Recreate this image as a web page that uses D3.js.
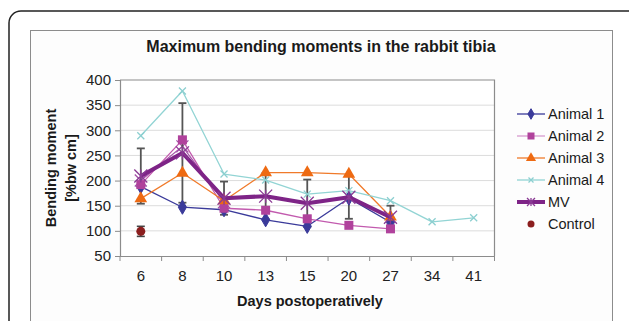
<!DOCTYPE html>
<html>
<head>
<meta charset="utf-8">
<script src="https://cdn.jsdelivr.net/npm/d3@7"></script>
<style>
  body { margin: 0; background: #fff; }
  text { font-family: "Liberation Sans", Arial, sans-serif; }
</style>
</head>
<body>
<script>
// data
var days = ["6", "8", "10", "13", "15", "20", "27", "34", "41"];
var animal1 = [188, 147, 142, 122, 109, 165, 117];
var animal2 = [192, 281, 145, 141, 124, 111, 104];
var animal3 = [164, 215, 160, 216, 216, 213, 128];
var animal4 = [289, 378, 213, 201, 173, 180, 160, 118, 126];
var mv      = [209, 255, 165, 169, 155, 167, 127];
var mvErr   = [55, 99, 33, 46, 47, 43, 23];
var extra   = [200, 268, 157];   // thin purple trace behind MV (no legend entry)
var control = [99];
var controlErr = [10];
var yTicks = [50, 100, 150, 200, 250, 300, 350, 400];

var W = 629, H = 321;
var pL = 120, pR = 494.5, pT = 80, pB = 256;

var svg = d3.select("body").append("svg")
    .attr("width", W).attr("height", H);

// frames
svg.append("rect").attr("x", 9).attr("y", 11).attr("width", 650).attr("height", 360)
    .attr("rx", 12).attr("fill", "#fff").attr("stroke", "#222").attr("stroke-width", 1.5);
svg.append("rect").attr("x", 30.5).attr("y", 30.5).attr("width", 582).attr("height", 320)
    .attr("fill", "#fdfdfd").attr("stroke", "#8c8c8c").attr("stroke-width", 1);

var x = d3.scaleBand().domain(days).range([pL, pR]).padding(0);
var y = d3.scaleLinear().domain([50, 400]).range([pB, pT]);
var cx = function (i) { return x(days[i]) + x.bandwidth() / 2; };

// plot area
svg.append("rect").attr("x", pL).attr("y", pT).attr("width", pR - pL).attr("height", pB - pT)
    .attr("fill", "#fff");
svg.selectAll(".grid").data(yTicks.slice(1, -1)).enter().append("line")
    .attr("x1", pL).attr("x2", pR)
    .attr("y1", function (d) { return y(d); }).attr("y2", function (d) { return y(d); })
    .attr("stroke", "#dcdcdc").attr("stroke-width", 1);
// top and right border of plot
svg.append("path")
    .attr("d", "M" + pL + "," + y(400) + "H" + pR + "V" + pB)
    .attr("fill", "none").attr("stroke", "#8c8c8c").attr("stroke-width", 1.2);

// y axis
var yAxis = svg.append("g").attr("transform", "translate(" + pL + ",0)")
    .call(d3.axisLeft(y).tickValues(yTicks).tickSize(5).tickPadding(4));
yAxis.select(".domain").attr("stroke", "#8c8c8c").attr("stroke-width", 1.2);
yAxis.selectAll(".tick line").attr("stroke", "#8c8c8c");
yAxis.selectAll("text").attr("font-size", "15px").attr("fill", "#222")
    .attr("font-family", "Liberation Sans, Arial, sans-serif");

// x axis
var xAxis = svg.append("g").attr("transform", "translate(0," + pB + ")")
    .call(d3.axisBottom(x).tickSize(0).tickPadding(14));
xAxis.select(".domain").attr("stroke", "#8c8c8c").attr("stroke-width", 1.2);
xAxis.selectAll("text").attr("font-size", "15px").attr("fill", "#222")
    .attr("font-family", "Liberation Sans, Arial, sans-serif");
// ticks between categories
var bounds = days.map(function (d) { return x(d); }).concat([x.range()[1]]);
xAxis.selectAll(".bt").data(bounds).enter().append("line")
    .attr("x1", function (d) { return d; }).attr("x2", function (d) { return d; })
    .attr("y1", 0).attr("y2", 5).attr("stroke", "#8c8c8c");

// titles
svg.append("text").attr("x", 321).attr("y", 52).attr("text-anchor", "middle")
    .attr("font-size", "16px").attr("font-weight", "bold").attr("fill", "#1a1a1a")
    .text("Maximum bending moments in the rabbit tibia");
svg.append("text").attr("x", 310).attr("y", 306).attr("text-anchor", "middle")
    .attr("font-size", "14.5px").attr("font-weight", "bold").attr("fill", "#1a1a1a")
    .text("Days postoperatively");
svg.append("text").attr("transform", "translate(56,168) rotate(-90)").attr("text-anchor", "middle")
    .attr("font-size", "14.5px").attr("font-weight", "bold").attr("fill", "#1a1a1a")
    .text("Bending moment");
svg.append("text").attr("transform", "translate(76,168) rotate(-90)").attr("text-anchor", "middle")
    .attr("font-size", "14.5px").attr("font-weight", "bold").attr("fill", "#1a1a1a")
    .text("[%bw cm]");

var line = d3.line().x(function (d, i) { return cx(i); }).y(function (d) { return y(d); });

// marker drawing helpers
function marker(g, type, color, size) {
    if (type === "diamond") {
        g.append("path").attr("d", d3.symbol(d3.symbolDiamond, size * size * 0.9)())
            .attr("fill", color).attr("stroke", color);
    } else if (type === "square") {
        g.append("rect").attr("x", -size / 2).attr("y", -size / 2).attr("width", size).attr("height", size)
            .attr("fill", color);
    } else if (type === "triangle") {
        g.append("path").attr("d", d3.symbol(d3.symbolTriangle, size * size * 0.7)())
            .attr("fill", color);
    } else if (type === "x") {
        var s = size / 2;
        g.append("path").attr("d", "M" + -s + "," + -s + "L" + s + "," + s + "M" + -s + "," + s + "L" + s + "," + -s)
            .attr("stroke", color).attr("stroke-width", 1.3).attr("fill", "none");
    } else if (type === "star") {
        var s2 = size / 2;
        g.append("path").attr("d", "M" + -s2 + "," + -s2 + "L" + s2 + "," + s2 + "M" + -s2 + "," + s2 + "L" + s2 + "," + -s2 +
            "M0," + -s2 + "V" + s2)
            .attr("stroke", color).attr("stroke-width", 1.3).attr("fill", "none");
    } else if (type === "circle") {
        g.append("circle").attr("r", size / 2).attr("fill", color);
    }
}

var series = [
    { name: "Animal 1", values: animal1, line: "#3a3a9a", mark: "#3a3a9a", type: "diamond", size: 8, width: 1.3 },
    { name: "Animal 2", values: animal2, line: "#c25aae", mark: "#b0429c", type: "square", size: 9, width: 1.3 },
    { name: "Animal 3", values: animal3, line: "#f07a2a", mark: "#ee6a12", type: "triangle", size: 10, width: 1.3 },
    { name: "Animal 4", values: animal4, line: "#92d4d4", mark: "#8ccfd0", type: "x", size: 7, width: 1.3 },
    { name: "MV", values: mv, line: "#7e2487", mark: "#8a3a94", type: "star", size: 13, width: 4 }
];

// thin purple trace
svg.append("path").datum(extra).attr("d", line)
    .attr("fill", "none").attr("stroke", "#a552a8").attr("stroke-width", 1.2);
extra.forEach(function (v, i) {
    marker(svg.append("g").attr("transform", "translate(" + cx(i) + "," + y(v) + ")"), "x", "#a552a8", 12);
});

// error bars for MV
var eb = svg.append("g").attr("stroke", "#555").attr("stroke-width", 1.8);
mv.forEach(function (v, i) {
    var x0 = cx(i);
    eb.append("line").attr("x1", x0).attr("x2", x0).attr("y1", y(v - mvErr[i])).attr("y2", y(v + mvErr[i]));
    eb.append("line").attr("x1", x0 - 4).attr("x2", x0 + 4).attr("y1", y(v - mvErr[i])).attr("y2", y(v - mvErr[i]));
    eb.append("line").attr("x1", x0 - 4).attr("x2", x0 + 4).attr("y1", y(v + mvErr[i])).attr("y2", y(v + mvErr[i]));
});

series.forEach(function (s) {
    svg.append("path").datum(s.values).attr("d", line)
        .attr("fill", "none").attr("stroke", s.line).attr("stroke-width", s.width)
        .attr("stroke-linejoin", "round");
    s.values.forEach(function (v, i) {
        marker(svg.append("g").attr("transform", "translate(" + cx(i) + "," + y(v) + ")"), s.type, s.mark, s.size);
    });
});

// control point with error bar
control.forEach(function (v, i) {
    var x0 = cx(i);
    var g = svg.append("g").attr("stroke", "#444").attr("stroke-width", 1.6);
    g.append("line").attr("x1", x0).attr("x2", x0).attr("y1", y(v - controlErr[i])).attr("y2", y(v + controlErr[i]));
    g.append("line").attr("x1", x0 - 4).attr("x2", x0 + 4).attr("y1", y(v - controlErr[i])).attr("y2", y(v - controlErr[i]));
    g.append("line").attr("x1", x0 - 4).attr("x2", x0 + 4).attr("y1", y(v + controlErr[i])).attr("y2", y(v + controlErr[i]));
    marker(svg.append("g").attr("transform", "translate(" + x0 + "," + y(v) + ")"), "circle", "#8b1e1e", 9);
});

// legend
var legendItems = series.concat([{ name: "Control", type: "circle", mark: "#8b1e1e", size: 7 }]);
var lg = svg.append("g");
legendItems.forEach(function (s, i) {
    var ly = 114 + i * 22;
    if (s.line) {
        lg.append("line").attr("x1", 517).attr("x2", 545).attr("y1", ly).attr("y2", ly)
            .attr("stroke", s.name === "Animal 2" ? "#d79bd0" : s.line).attr("stroke-width", s.width);
    }
    marker(lg.append("g").attr("transform", "translate(531," + ly + ")"), s.type, s.mark,
        s.type === "star" ? 8 : (s.type === "circle" ? 7 : s.size - 2));
    lg.append("text").attr("x", 548).attr("y", ly + 5).attr("font-size", "14.5px").attr("fill", "#1a1a1a")
        .text(s.name);
});
</script>
</body>
</html>
